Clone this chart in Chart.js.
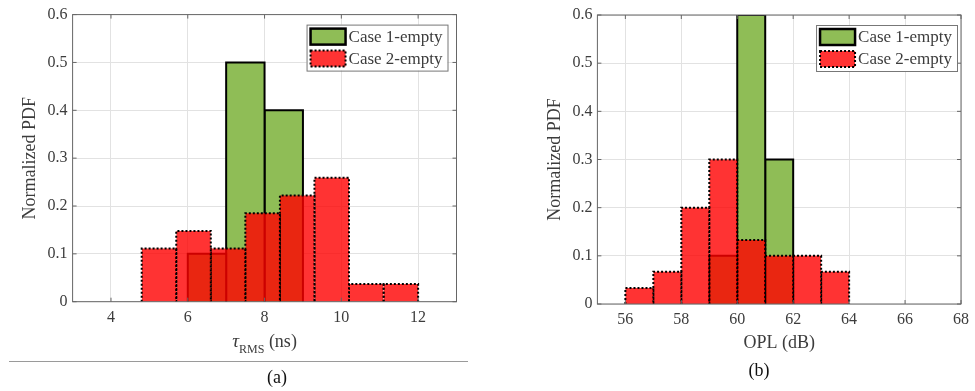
<!DOCTYPE html>
<html>
<head>
<meta charset="utf-8">
<script src="https://cdn.jsdelivr.net/npm/chart.js@4.4.1/dist/chart.umd.min.js"></script>
<style>
  html, body { margin: 0; padding: 0; background: #fff; }
  #wrap { position: relative; width: 975px; height: 391px; overflow: hidden; }
  canvas { position: absolute; top: 0; }
  #chartA { left: 0; }
  #chartB { left: 500px; }
  .caption { position: absolute; font: 18px "Liberation Serif", serif; color: #111; transform: translate(-50%, -50%); }
  #rule { position: absolute; left: 9px; top: 361px; width: 459px; border-top: 1px solid #9a9a9a; }
</style>
</head>
<body>
<div id="wrap">
  <canvas id="chartA" width="470" height="391"></canvas>
  <canvas id="chartB" width="475" height="391"></canvas>
  <div id="rule"></div>
  <div class="caption" style="left:277px; top:377px;">(a)</div>
  <div class="caption" style="left:759px; top:370px;">(b)</div>
</div>
<script>
// tick labels
const tauTicks = [4, 6, 8, 10, 12];
const oplTicks = [56, 58, 60, 62, 64, 66, 68];
const pdfTicks = [0, 0.1, 0.2, 0.3, 0.4, 0.5, 0.6];

const seriesNames = ['Case 1-empty', 'Case 2-empty'];

// RMS delay spread histograms (bin edges + normalized pdf)
const tauEdges1 = [6, 7, 8, 9];
const tauPdf1 = [0.1, 0.5, 0.4];
const tauEdges2 = [4.8, 5.7, 6.6, 7.5, 8.4, 9.3, 10.2, 11.1, 12.0];
const tauPdf2 = [0.111, 0.148, 0.111, 0.185, 0.222, 0.259, 0.037, 0.037];

// optical path loss histograms
const oplEdges1 = [59, 60, 61, 62];
const oplPdf1 = [0.1, 0.6, 0.3];
const oplEdges2 = [56, 57, 58, 59, 60, 61, 62, 63, 64];
const oplPdf2 = [0.033, 0.067, 0.2, 0.3, 0.133, 0.1, 0.1, 0.067];

const SERIF = '"Liberation Serif", "Times New Roman", serif';
const TEXT = '#3c3c3c';

const greenStyle = {
    backgroundColor: '#8fbd56',
    borderColor: '#000',
    borderWidth: 2,
    borderDash: [],
    order: 2
};
const redStyle = {
    backgroundColor: 'rgba(255, 0, 0, 0.8)',
    borderColor: '#000',
    borderWidth: 2,
    borderDash: [2, 2],
    order: 1
};

// one closed step outline per bin so every bar keeps its own edges
function histSets(edges, values, style) {
    return values.map((v, i) => Object.assign({
        data: [
            { x: edges[i], y: 0 },
            { x: edges[i], y: v },
            { x: edges[i + 1], y: v },
            { x: edges[i + 1], y: 0 }
        ],
        fill: 'origin',
        tension: 0,
        pointRadius: 0,
        borderJoinStyle: 'miter'
    }, style));
}

// box around the axes with inward ticks on all four sides
const framePlugin = {
    id: 'frame',
    afterDatasetsDraw(chart) {
        const { ctx, chartArea: a, scales: { x, y } } = chart;
        ctx.save();
        ctx.strokeStyle = '#666';
        ctx.lineWidth = 1;
        ctx.strokeRect(a.left, a.top, a.right - a.left, a.bottom - a.top);
        ctx.beginPath();
        x.ticks.forEach(t => {
            const px = x.getPixelForValue(t.value);
            ctx.moveTo(px, a.bottom); ctx.lineTo(px, a.bottom - 4);
            ctx.moveTo(px, a.top); ctx.lineTo(px, a.top + 4);
        });
        y.ticks.forEach(t => {
            const py = y.getPixelForValue(t.value);
            ctx.moveTo(a.left, py); ctx.lineTo(a.left + 4, py);
            ctx.moveTo(a.right, py); ctx.lineTo(a.right - 4, py);
        });
        ctx.stroke();
        ctx.restore();
    }
};

// framed legend in the upper right corner
const legendPlugin = {
    id: 'histLegend',
    afterDraw(chart, args, opts) {
        const { ctx, chartArea: a } = chart;
        const styles = [greenStyle, redStyle];
        ctx.save();
        ctx.font = '17px ' + SERIF;
        const tw = Math.max(...seriesNames.map(n => ctx.measureText(n).width));
        const padL = 4, sw = 35, sh = 16, gap = 3, padR = 5, padT = 4, rowH = 22;
        const w = padL + sw + gap + tw + padR;
        const h = padT * 2 + rowH + sh;
        const left = a.right - opts.right - w;
        const top = a.top + opts.top;
        ctx.fillStyle = '#fff';
        ctx.fillRect(left, top, w, h);
        ctx.strokeStyle = '#777';
        ctx.lineWidth = 1;
        ctx.strokeRect(left + 0.5, top + 0.5, w, h);
        seriesNames.forEach((name, i) => {
            const s = styles[i];
            const sx = left + padL, sy = top + padT + i * rowH;
            ctx.fillStyle = s.backgroundColor;
            ctx.fillRect(sx, sy, sw, sh);
            ctx.setLineDash(s.borderDash);
            ctx.lineWidth = i === 0 ? 2.5 : 2;
            ctx.strokeStyle = s.borderColor;
            ctx.strokeRect(sx, sy, sw, sh);
            ctx.setLineDash([]);
            ctx.fillStyle = TEXT;
            ctx.textBaseline = 'middle';
            ctx.fillText(name, sx + sw + gap, sy + sh / 2 + 1);
        });
        ctx.restore();
    }
};

// x title with a subscript: tau_RMS (ns)
const subTitlePlugin = {
    id: 'subTitle',
    afterDraw(chart, args, opts) {
        if (!opts.parts) return;
        const { ctx, chartArea: a } = chart;
        const [sym, sub, rest] = opts.parts;
        ctx.save();
        ctx.fillStyle = TEXT;
        ctx.textBaseline = 'alphabetic';
        const fSym = 'italic 19px ' + SERIF, fSub = '12px ' + SERIF, fRest = '18px ' + SERIF;
        ctx.font = fSym; const w1 = ctx.measureText(sym).width;
        ctx.font = fSub; const w2 = ctx.measureText(sub).width;
        ctx.font = fRest; const w3 = ctx.measureText(rest).width;
        let x = (a.left + a.right) / 2 - (w1 + w2 + w3) / 2;
        const base = opts.baseline;
        ctx.font = fSym; ctx.fillText(sym, x, base); x += w1;
        ctx.font = fSub; ctx.fillText(sub, x, base + 6); x += w2;
        ctx.font = fRest; ctx.fillText(rest, x, base);
        ctx.restore();
    }
};

function makeChart(id, o) {
    return new Chart(document.getElementById(id), {
        type: 'line',
        data: {
            datasets: [
                ...histSets(o.edges1, o.pdf1, greenStyle),
                ...histSets(o.edges2, o.pdf2, redStyle)
            ]
        },
        options: {
            responsive: false,
            animation: false,
            layout: { padding: o.padding },
            plugins: {
                legend: { display: false },
                tooltip: { enabled: false },
                histLegend: o.legend,
                subTitle: o.subTitle || {}
            },
            scales: {
                x: {
                    type: 'linear',
                    min: o.xMin,
                    max: o.xMax,
                    afterBuildTicks: s => { s.ticks = o.xTicks.map(v => ({ value: v })); },
                    afterFit: s => { s.height = o.xHeight; },
                    grid: { color: '#e2e2e2', drawTicks: false },
                    border: { display: false },
                    ticks: {
                        padding: 6,
                        maxRotation: 0,
                        color: TEXT,
                        font: { family: SERIF, size: 16 },
                        callback: v => String(v)
                    },
                    title: {
                        display: !!o.xTitle,
                        text: o.xTitle || '',
                        color: TEXT,
                        font: { family: SERIF, size: 18 },
                        padding: { top: 0, bottom: 37 }
                    }
                },
                y: {
                    min: 0,
                    max: 0.6,
                    afterBuildTicks: s => { s.ticks = pdfTicks.map(v => ({ value: v })); },
                    afterFit: s => { s.width = o.yWidth; },
                    grid: { color: '#e2e2e2', drawTicks: false },
                    border: { display: false },
                    ticks: {
                        padding: 5,
                        color: TEXT,
                        font: { family: SERIF, size: 16 },
                        callback: v => v === 0 ? '0' : v.toFixed(1)
                    },
                    title: {
                        display: true,
                        text: 'Normalized PDF',
                        color: TEXT,
                        font: { family: SERIF, size: 18 },
                        padding: { top: o.yTitlePad, bottom: 0 }
                    }
                }
            }
        },
        plugins: [framePlugin, legendPlugin, subTitlePlugin]
    });
}

makeChart('chartA', {
    edges1: tauEdges1, pdf1: tauPdf1,
    edges2: tauEdges2, pdf2: tauPdf2,
    xTicks: tauTicks, xMin: 3, xMax: 13,
    padding: { top: 11, right: 13.5, left: 0, bottom: 0 },
    yWidth: 72.6, xHeight: 89.3, yTitlePad: 19,
    legend: { right: 9, top: 10 },
    subTitle: { parts: ['\u03c4', 'RMS', ' (ns)'], baseline: 347 }
});

makeChart('chartB', {
    edges1: oplEdges1, pdf1: oplPdf1,
    edges2: oplEdges2, pdf2: oplPdf2,
    xTicks: oplTicks, xMin: 55, xMax: 68,
    padding: { top: 15, right: 10, left: 0, bottom: 0 },
    yWidth: 97.4, xHeight: 87, yTitlePad: 44,
    xTitle: 'OPL (dB)',
    legend: { right: 4, top: 10 }
});
</script>
</body>
</html>
